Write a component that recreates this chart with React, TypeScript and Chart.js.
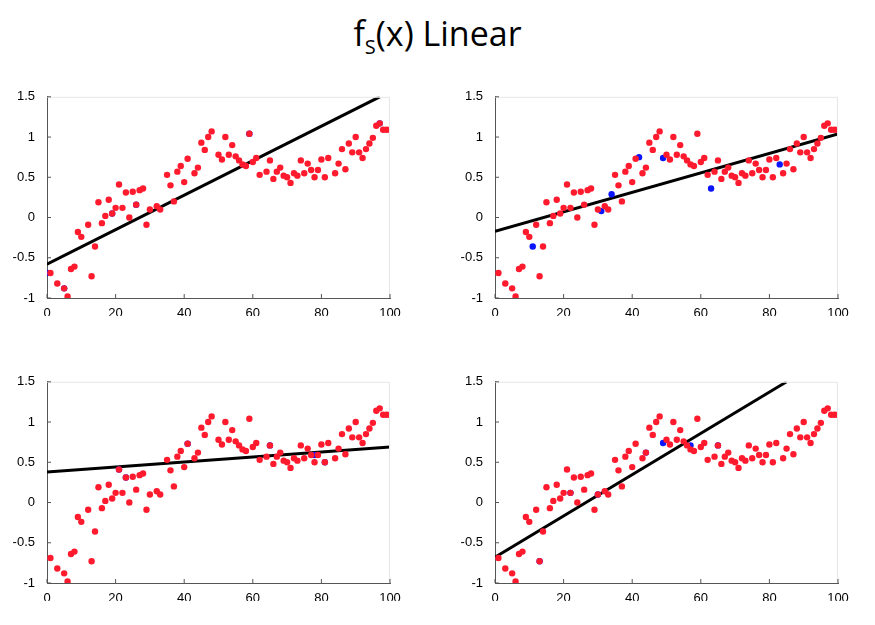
import React, { useEffect, useRef } from "react";
import { Chart, registerables } from "chart.js";
Chart.register(...registerables);

const redX = [1,3,5,6,7,8,9,10,12,13,14,15,16,17,18,19,20,21,22,23,24,25,26,27,28,29,30,32,33,35,36,37,38,39,40,41,43,44,45,46,47,48,50,51,52,53,54,55,56,57,58,59,60,61,62,64,65,66,67,68,69,70,71,72,73,74,75,76,77,78,79,80,81,82,84,85,86,87,88,89,90,91,92,93,94,95,96,97,98,99,100];
const redY = [-0.69,-0.82,-0.88,-0.98,-0.64,-0.61,-0.18,-0.24,-0.09,-0.73,-0.36,0.19,-0.07,0.02,0.22,0.05,0.12,0.41,0.12,0.31,0,0.32,0.16,0.34,0.36,-0.09,0.1,0.14,0.1,0.53,0.4,0.2,0.57,0.64,0.44,0.73,0.55,0.62,0.93,0.84,1.0,1.07,0.78,0.72,1.0,0.78,0.9,0.76,0.71,0.66,0.64,1.04,0.69,0.74,0.53,0.57,0.71,0.48,0.57,0.62,0.52,0.5,0.43,0.55,0.52,0.71,0.55,0.67,0.59,0.5,0.59,0.72,0.5,0.74,0.55,0.67,0.85,0.6,0.92,0.81,1.0,0.81,0.74,0.85,0.92,0.99,1.14,1.17,1.09,1.09,1.09];

const blueTLx = [0,5,19,26,59,97]; const blueTLy = [-0.69,-0.88,0.05,0.16,1.04,1.17];
const blueTRx = [11,31,34,42,49,63,83]; const blueTRy = [-0.36,0.08,0.29,0.75,0.74,0.36,0.66];
const blueBLx = [21,23,41,65,78,81]; const blueBLy = [0.41,0.31,0.73,0.71,0.59,0.5];
const blueBRx = [13,22,30,44,49,57,65]; const blueBRy = [-0.73,0.12,0.1,0.62,0.74,0.71,0.71];

const lineTL = [[0,-0.58],[97,1.5]];
const lineTR = [[0,-0.17],[100,1.04]];
const lineBL = [[0,0.38],[100,0.69]];
const lineBR = [[0,-0.68],[85,1.5]];

const xTicks = [0,20,40,60,80,100];
const yTicks = [-1,-0.5,0,0.5,1,1.5];

const zip = (xs: number[], ys: number[]) => xs.map((x, i) => ({ x, y: ys[i] }));

const frame = {
  id: "frame",
  afterDraw(c: any) {
    const a = c.chartArea, ctx = c.ctx;
    ctx.save();
    ctx.strokeStyle = "#e6e6e6"; ctx.lineWidth = 1;
    ctx.beginPath(); ctx.moveTo(a.left, a.top + 0.5); ctx.lineTo(a.right - 0.5, a.top + 0.5); ctx.lineTo(a.right - 0.5, a.bottom); ctx.stroke();
    ctx.strokeStyle = "#555";
    ctx.beginPath();
    xTicks.forEach(t => { const p = c.scales.x.getPixelForValue(t); ctx.moveTo(p, a.bottom); ctx.lineTo(p, a.bottom - 4); });
    yTicks.forEach(t => { const p = c.scales.y.getPixelForValue(t); ctx.moveTo(a.left, p); ctx.lineTo(a.left + 4, p); });
    ctx.stroke();
    ctx.restore();
  },
};

function Panel({ left, top, bx, by, line }: any) {
  const ref = useRef<HTMLCanvasElement>(null);
  useEffect(() => {
    const ch = new Chart(ref.current!, {
      type: "scatter",
      data: {
        datasets: [
          { data: zip(redX, redY), backgroundColor: "#ff1a2e", borderWidth: 0, pointRadius: 3.2 },
          { data: zip(bx, by), backgroundColor: "#0a14ff", borderWidth: 0, pointRadius: 3.2 },
          { data: line.map((p: number[]) => ({ x: p[0], y: p[1] })), showLine: true, borderColor: "#000", borderWidth: 3, pointRadius: 0 },
        ],
      },
      options: {
        animation: false, responsive: false, maintainAspectRatio: false,
        layout: { padding: { top: 10, right: 14 } },
        plugins: { legend: { display: false }, tooltip: { enabled: false } },
        scales: {
          x: {
            type: "linear", min: 0, max: 100, afterBuildTicks: (s: any) => { s.ticks = xTicks.map(v => ({ value: v })); },
            grid: { display: false }, border: { color: "#555" },
            ticks: { color: "#000", font: { size: 13, family: "Liberation Sans" }, padding: 0, maxRotation: 0 },
            afterFit: (s: any) => { s.height = 18; },
          },
          y: {
            min: -1, max: 1.5, afterBuildTicks: (s: any) => { s.ticks = yTicks.map(v => ({ value: v })); },
            grid: { display: false }, border: { color: "#555" },
            ticks: { color: "#000", font: { size: 13, family: "Liberation Sans" }, padding: 4, callback: (v: any) => String(v) },
            afterFit: (s: any) => { s.width = 40; },
          },
        },
      },
      plugins: [frame],
    });
    return () => ch.destroy();
  }, []);
  return <canvas ref={ref} width={397} height={231} style={{ position: "absolute", left, top }} />;
}

export default function App() {
  return (
    <div style={{ position: "relative", width: 875, height: 625, margin: -8, background: "#fff" }}>
      <div style={{ position: "absolute", top: 10, left: 0, width: 875, textAlign: "center", fontFamily: "Open Sans, Liberation Sans", fontSize: 34 }}>
        f<sub style={{ fontSize: 20 }}>S</sub>(x) Linear
      </div>
      <Panel left={7} top={85} bx={blueTLx} by={blueTLy} line={lineTL} />
      <Panel left={455} top={85} bx={blueTRx} by={blueTRy} line={lineTR} />
      <Panel left={7} top={370} bx={blueBLx} by={blueBLy} line={lineBL} />
      <Panel left={455} top={370} bx={blueBRx} by={blueBRy} line={lineBR} />
    </div>
  );
}
